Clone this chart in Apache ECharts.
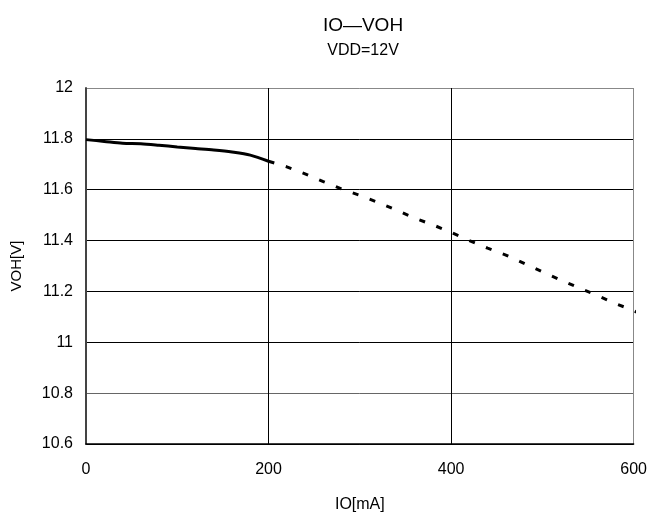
<!DOCTYPE html>
<html>
<head>
<meta charset="utf-8">
<script src="https://cdn.jsdelivr.net/npm/echarts@6/dist/echarts.min.js"></script>
<style>html,body{margin:0;padding:0;background:#fff}#c{width:650px;height:519px}</style>
</head>
<body>
<div id="c"></div>
<script>
// measured part (solid)
const ioSolid = [0, 20, 40, 60, 80, 100, 120, 140, 160, 180, 200];
const vohSolid = [11.797, 11.790, 11.783, 11.781, 11.775, 11.768, 11.762, 11.756, 11.748, 11.736, 11.712];
// estimated part (dashed)
const ioDashed = [200, 220, 240, 260, 280, 300, 320, 340, 360, 380, 400, 420, 440, 460, 480, 500, 520, 540, 560, 580, 600, 615];
const vohDashed = [11.712, 11.690, 11.662, 11.632, 11.603, 11.578, 11.550, 11.520, 11.488, 11.462, 11.432, 11.400, 11.370, 11.343, 11.310, 11.277, 11.245, 11.214, 11.184, 11.152, 11.125, 11.095];
const xTicks = [0, 200, 400, 600];
const yTicks = [10.6, 10.8, 11, 11.2, 11.4, 11.6, 11.8, 12];

const font = 'Liberation Sans, Arial, sans-serif';
const chart = echarts.init(document.getElementById('c'), null, {renderer: 'canvas'});
chart.setOption({
  backgroundColor: '#fff',
  animation: false,
  title: [
    {text: 'IO\u2014VOH', left: 358, top: 11, textAlign: 'center',
     textStyle: {fontFamily: font, fontSize: 19, fontWeight: 'normal', color: '#000'}},
    {text: 'VDD=12V', left: 358, top: 38, textAlign: 'center',
     textStyle: {fontFamily: font, fontSize: 16, fontWeight: 'normal', color: '#000'}}
  ],
  grid: {left: 86, right: 15, top: 88, bottom: 75, containLabel: false},
  xAxis: {
    type: 'value', min: 0, max: 600, interval: 200,
    name: 'IO[mA]', nameLocation: 'middle', nameGap: 53,
    nameTextStyle: {fontFamily: font, fontSize: 16, color: '#000'},
    axisLine: {show: true, lineStyle: {color: '#000', width: 1.5}},
    axisTick: {show: false},
    axisLabel: {fontFamily: font, fontSize: 16, color: '#000', margin: 18,
      formatter: v => xTicks.includes(v) ? String(v) : ''},
    splitLine: {show: true, lineStyle: {color: ['#000', '#000', '#000', '#888'], width: 1}}
  },
  yAxis: {
    type: 'value', min: 10.6, max: 12, interval: 0.2,
    name: 'VOH[V]', nameLocation: 'middle', nameGap: 62,
    nameTextStyle: {fontFamily: font, fontSize: 15, color: '#000'},
    axisLine: {show: true, lineStyle: {color: '#444', width: 2}},
    axisTick: {show: false},
    axisLabel: {fontFamily: font, fontSize: 16, color: '#000', margin: 13,
      formatter: v => { const r = Math.round(v * 10) / 10; return yTicks.includes(r) ? String(r) : ''; }},
    splitLine: {show: true, lineStyle: {color: ['#000', '#666', '#000', '#000', '#000', '#000', '#000', '#888'], width: 1}}
  },
  series: [
    {type: 'line', data: ioSolid.map((x, i) => [x, vohSolid[i]]), showSymbol: false, smooth: 0.3,
     lineStyle: {color: '#000', width: 3}, z: 5},
    {type: 'line', data: ioDashed.map((x, i) => [x, vohDashed[i]]), showSymbol: false, clip: false,
     lineStyle: {color: '#000', width: 3, type: [6, 12]}, z: 5}
  ]
});
</script>
</body>
</html>
